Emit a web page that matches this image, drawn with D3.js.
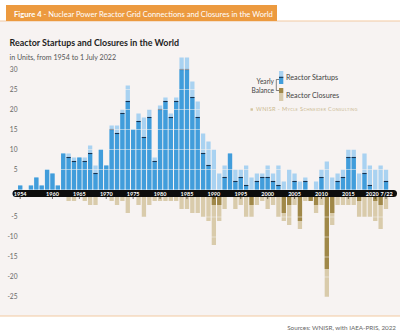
<!DOCTYPE html>
<html>
<head>
<meta charset="utf-8">
<script src="https://cdn.jsdelivr.net/npm/d3@7"></script>
<style>
  body { margin: 0; background: #fff; }
  text { font-family: Lato, "Open Sans", sans-serif; }
</style>
</head>
<body>
<script>
// yearly data
var years = [1954, 1955, 1956, 1957, 1958, 1959, 1960, 1961, 1962, 1963,
  1964, 1965, 1966, 1967, 1968, 1969, 1970, 1971, 1972, 1973,
  1974, 1975, 1976, 1977, 1978, 1979, 1980, 1981, 1982, 1983,
  1984, 1985, 1986, 1987, 1988, 1989, 1990, 1991, 1992, 1993,
  1994, 1995, 1996, 1997, 1998, 1999, 2000, 2001, 2002, 2003,
  2004, 2005, 2006, 2007, 2008, 2009, 2010, 2011, 2012, 2013,
  2014, 2015, 2016, 2017, 2018, 2019, 2020, 2021, 2022];

var startups = [1, 0, 1, 3, 1, 5, 4, 1, 9, 9,
  8, 8, 8, 11, 6, 10, 6, 16, 16, 20,
  26, 15, 19, 18, 20, 8, 21, 23, 19, 23,
  33, 33, 27, 22, 14, 12, 10, 4, 6, 9,
  5, 5, 6, 3, 4, 4, 6, 4, 6, 2,
  5, 4, 2, 3, 0, 2, 5, 7, 3, 4,
  5, 10, 10, 4, 9, 6, 5, 6, 5];

var closures = [0, 0, 0, 0, 0, 0, 0, 0, 0, 1,
  1, 0, 1, 2, 2, 0, 0, 1, 2, 1,
  4, 0, 2, 5, 2, 1, 1, 1, 1, 1,
  3, 3, 4, 4, 5, 6, 12, 6, 3, 0,
  3, 2, 5, 5, 2, 1, 3, 2, 5, 6,
  7, 2, 8, 1, 1, 4, 2, 25, 7, 2,
  2, 2, 2, 5, 5, 5, 6, 8, 3];

var posTicks = [5, 10, 15, 20, 25, 30];
var negTicks = [-5, -10, -15, -20, -25];
var axisYears = [1954, 1960, 1965, 1970, 1975, 1980, 1985, 1990, 1995, 2000, 2005, 2010, 2015, 2020, 2022];
var axisLabels = ["1954", "1960", "1965", "1970", "1975", "1980", "1985", "1990", "1995", "2000", "2005", "2010", "2015", "2020", "7/22"];

var W = 400, H = 336;
var colBlue = "#419ddb", colBlueLight = "#a9d2f1", colLine = "#17324f";
var colTan = "#d9cbab", colTanDark = "#a08849";
var bg = "#f7f3f2";

var svg = d3.select("body").append("svg").attr("width", W).attr("height", H);

svg.append("rect").attr("width", W).attr("height", H).attr("fill", "#fff");
svg.append("rect").attr("x", 0).attr("y", 21).attr("width", W).attr("height", 295).attr("fill", bg);
svg.append("line").attr("x1", 0).attr("x2", W).attr("y1", 21).attr("y2", 21)
  .attr("stroke", "#f2c9a1").attr("stroke-width", 1);
svg.append("line").attr("x1", 0).attr("x2", W).attr("y1", 316).attr("y2", 316)
  .attr("stroke", "#f2c9a1").attr("stroke-width", 1);

// header tab
svg.append("rect").attr("x", 6).attr("y", 5).attr("width", 271).attr("height", 16).attr("fill", "#ec9a3f");
var hdr = svg.append("text").attr("x", 14).attr("y", 16.5).attr("fill", "#fff").style("font-size", "7.6px");
hdr.append("tspan").style("font-weight", "bold").text("Figure 4");
hdr.append("tspan").text(" - Nuclear Power Reactor Grid Connections and Closures in the World");

svg.append("text").attr("x", 9.5).attr("y", 46).attr("fill", "#1e1e1e")
  .style("font-size", "8.9px").style("font-weight", "bold")
  .text("Reactor Startups and Closures in the World");
svg.append("text").attr("x", 9.5).attr("y", 59.5).attr("fill", "#555")
  .style("font-size", "7.1px")
  .text("in Units, from 1954 to 1 July 2022");

// scales
var x = d3.scaleBand().domain(years).range([17.5, 388.7]).paddingInner(0.2).paddingOuter(0.1);
var yPos = d3.scaleLinear().domain([0, 30]).range([189.5, 69.5]);
var yNeg = d3.scaleLinear().domain([0, -25]).range([197, 297]);

var rows = years.map(function(yr, i) {
  return { year: yr, up: startups[i], down: closures[i], bal: startups[i] - closures[i] };
});

var bars = svg.append("g");

// startups: light full bar, dark part up to balance
bars.selectAll(".su").data(rows.filter(function(d) { return d.up > 0; })).enter()
  .append("rect").attr("x", function(d) { return x(d.year); })
  .attr("width", x.bandwidth())
  .attr("y", function(d) { return yPos(d.up); })
  .attr("height", function(d) { return yPos(0) - yPos(d.up); })
  .attr("fill", colBlueLight);
bars.selectAll(".sb").data(rows.filter(function(d) { return d.bal > 0; })).enter()
  .append("rect").attr("x", function(d) { return x(d.year); })
  .attr("width", x.bandwidth())
  .attr("y", function(d) { return yPos(d.bal); })
  .attr("height", function(d) { return yPos(0) - yPos(d.bal); })
  .attr("fill", colBlue);

// closures: light full bar, dark part down to negative balance
bars.selectAll(".cl").data(rows.filter(function(d) { return d.down > 0; })).enter()
  .append("rect").attr("x", function(d) { return x(d.year); })
  .attr("width", x.bandwidth())
  .attr("y", yNeg(0))
  .attr("height", function(d) { return yNeg(-d.down) - yNeg(0); })
  .attr("fill", colTan);
bars.selectAll(".cb").data(rows.filter(function(d) { return d.bal < 0; })).enter()
  .append("rect").attr("x", function(d) { return x(d.year); })
  .attr("width", x.bandwidth())
  .attr("y", yNeg(0))
  .attr("height", function(d) { return yNeg(d.bal) - yNeg(0); })
  .attr("fill", colTanDark);

// grid lines drawn over the bars
var grid = svg.append("g").attr("stroke", bg).attr("stroke-width", 0.7).attr("opacity", 0.75);
grid.selectAll(".gp").data(posTicks).enter().append("line")
  .attr("x1", 17).attr("x2", 390)
  .attr("y1", function(d) { return yPos(d); }).attr("y2", function(d) { return yPos(d); });
grid.selectAll(".gn").data(negTicks).enter().append("line")
  .attr("x1", 17).attr("x2", 390)
  .attr("y1", function(d) { return yNeg(d); }).attr("y2", function(d) { return yNeg(d); });

// yearly balance marker
bars.selectAll(".bl").data(rows.filter(function(d) { return d.bal > 0 && d.down > 0; })).enter()
  .append("line")
  .attr("x1", function(d) { return x(d.year); })
  .attr("x2", function(d) { return x(d.year) + x.bandwidth(); })
  .attr("y1", function(d) { return yPos(d.bal); })
  .attr("y2", function(d) { return yPos(d.bal); })
  .attr("stroke", colLine).attr("stroke-width", 1.1);

// y labels
var yl = svg.append("g").attr("fill", "#666").style("font-size", "6.6px").attr("text-anchor", "end");
yl.selectAll(".tp").data(posTicks).enter().append("text")
  .attr("x", 17.5).attr("y", function(d) { return yPos(d) + 2.3; }).text(function(d) { return d; });
yl.selectAll(".tn").data(negTicks).enter().append("text")
  .attr("x", 17.5).attr("y", function(d) { return yNeg(d) + 2.3; }).text(function(d) { return d; });

// black year band
svg.append("rect").attr("x", 12.5).attr("y", 190).attr("width", 384.5).attr("height", 7)
  .attr("rx", 3.5).attr("fill", "#0d0d0d");
var xa = svg.append("g");
xa.selectAll("line").data(axisYears).enter().append("line")
  .attr("x1", function(d) { return x(d) + x.bandwidth() / 2; })
  .attr("x2", function(d) { return x(d) + x.bandwidth() / 2; })
  .attr("y1", 196).attr("y2", 199).attr("stroke", "#222").attr("stroke-width", 0.6);
xa.selectAll("text").data(axisYears).enter().append("text")
  .attr("x", function(d, i) { return x(d) + x.bandwidth() / 2 - (d == 2020 ? 3 : 0) + (d == 2022 ? 0.5 : 0); })
  .attr("y", 195.6).attr("text-anchor", "middle").attr("fill", "#fff")
  .style("font-size", "5.5px").style("font-weight", "bold")
  .text(function(d, i) { return axisLabels[i]; });

// legend
var lg = svg.append("g");
lg.append("rect").attr("x", 279).attr("y", 71).attr("width", 4.3).attr("height", 6).attr("fill", colBlueLight);
lg.append("rect").attr("x", 279).attr("y", 77).attr("width", 4.3).attr("height", 7).attr("fill", colBlue);
lg.append("line").attr("x1", 279).attr("x2", 283.3).attr("y1", 77.3).attr("y2", 77.3).attr("stroke", colLine).attr("stroke-width", 1.1);
lg.append("rect").attr("x", 279).attr("y", 88).attr("width", 4.3).attr("height", 5).attr("fill", colTanDark);
lg.append("rect").attr("x", 279).attr("y", 93).attr("width", 4.3).attr("height", 8).attr("fill", colTan);
lg.append("path").attr("d", "M279,79.5 H276.3 V90.5 H279").attr("fill", "none")
  .attr("stroke", "#333").attr("stroke-width", 0.6);
lg.append("text").attr("x", 274).attr("y", 83.5).attr("text-anchor", "end").attr("fill", "#444")
  .style("font-size", "6.6px").text("Yearly");
lg.append("text").attr("x", 274).attr("y", 92.5).attr("text-anchor", "end").attr("fill", "#444")
  .style("font-size", "6.6px").text("Balance");
lg.append("text").attr("x", 286).attr("y", 80).attr("fill", "#444")
  .style("font-size", "7.2px").text("Reactor Startups");
lg.append("text").attr("x", 286).attr("y", 98).attr("fill", "#444")
  .style("font-size", "7.2px").text("Reactor Closures");

svg.append("rect").attr("x", 250.5).attr("y", 108.3).attr("width", 2.4).attr("height", 2.4).attr("fill", "#d2c29d");
svg.append("text").attr("x", 256).attr("y", 111.2).attr("fill", "#cbb990")
  .style("font-size", "5.6px").style("font-variant", "small-caps").style("letter-spacing", "0.35px")
  .text("WNISR - Mycle Schneider Consulting");

svg.append("text").attr("x", 396).attr("y", 330).attr("text-anchor", "end").attr("fill", "#666")
  .style("font-size", "6.3px").text("Sources: WNISR, with IAEA-PRIS, 2022");
</script>
</body>
</html>
